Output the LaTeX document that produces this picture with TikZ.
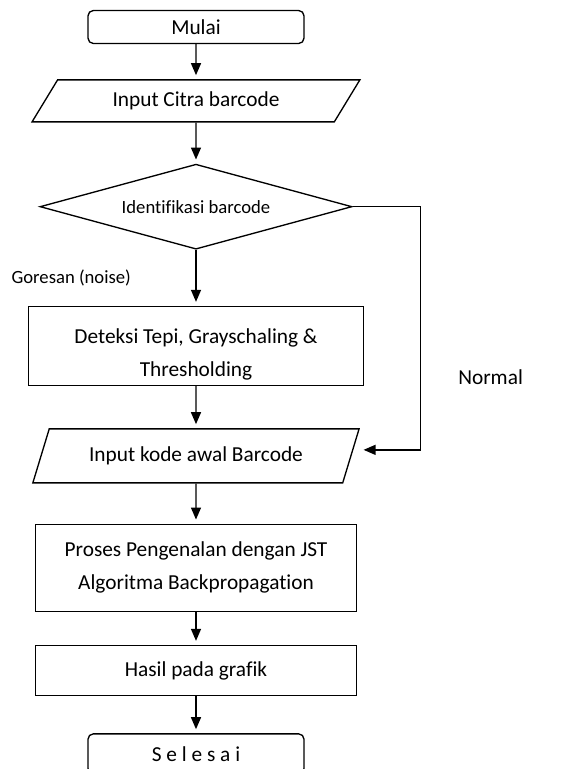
\documentclass[tikz,border=0pt]{standalone}
\usepackage{fontspec}
\setmainfont[Ligatures=NoCommon]{Carlito}
\usetikzlibrary{shapes.geometric, arrows.meta, positioning, calc}

\begin{document}
\begin{tikzpicture}[
    x=0.75pt, y=0.75pt,
    base/.style={draw, line width=1pt, align=center, inner sep=2pt,
                 font=\fontsize{16}{24.75}\selectfont},
    terminal/.style={base, rectangle, rounded corners=4pt, minimum width=162pt},
    io/.style={base, trapezium, trapezium stretches=true,
               trapezium left angle=56, trapezium right angle=124},
    process/.style={base, rectangle, minimum width=240.75pt},
    decision/.style={base, diamond, shape aspect=3.67, inner sep=0pt,
                     minimum width=234pt, minimum height=63.75pt,
                     font=\fontsize{14}{17}\selectfont},
    smalltext/.style={font=\fontsize{14}{17}\selectfont},
    bigtext/.style={font=\fontsize{16}{20}\selectfont},
    arrow/.style={-{Triangle[width=7.5pt,length=9pt]}, line width=1pt, shorten >=3pt}
]
\useasboundingbox (0,0) rectangle (578,-769);

\node[terminal, minimum height=24.75pt] (start) at (196,-27) {Mulai};
\node[io, minimum width=246pt, minimum height=31.5pt, below=26.25pt of start] (in1) {Input Citra barcode};
\node[decision, below=30.75pt of in1] (dec) {Identifikasi barcode};
\node[process, minimum width=251.25pt, minimum height=59.25pt, below=42pt of dec] (det)
    {\rule{0pt}{24pt}Deteksi Tepi, Grayschaling \&\\Thresholding};
\node[io, trapezium left angle=62.6, trapezium right angle=117.4,
      minimum width=245.25pt, minimum height=40.5pt, below=31.5pt of det] (in2) {Input kode awal Barcode};
\node[process, minimum height=65.25pt, below=30pt of in2] (jst)
    {Proses Pengenalan dengan JST\\Algoritma Backpropagation};
\node[process, minimum height=37.5pt, below=24.75pt of jst] (hasil) {Hasil pada grafik};
\node[terminal, minimum height=30pt, below=27.75pt of hasil] (stop) {S e l e s a i};

\node[bigtext, anchor=west, inner sep=0pt] (normal) at (458,-377) {Normal};

\draw[arrow] (start) -- (in1);
\draw[arrow] (in1) -- (dec);
\draw[arrow] (dec) -- (det) node[midway, smalltext, left=45pt] {Goresan (noise)};
\draw[arrow] (det) -- (in2);
\draw[arrow] (in2) -- (jst);
\draw[arrow] (jst) -- (hasil);
\draw[arrow] (hasil) -- (stop);

% cabang normal
\coordinate (turn) at ($(dec.east)+(68,0)$);
\draw[arrow, shorten >=9pt] (dec.east) -- (turn) |- ($(in2.east)+(0,6)$);

\end{tikzpicture}
\end{document}
